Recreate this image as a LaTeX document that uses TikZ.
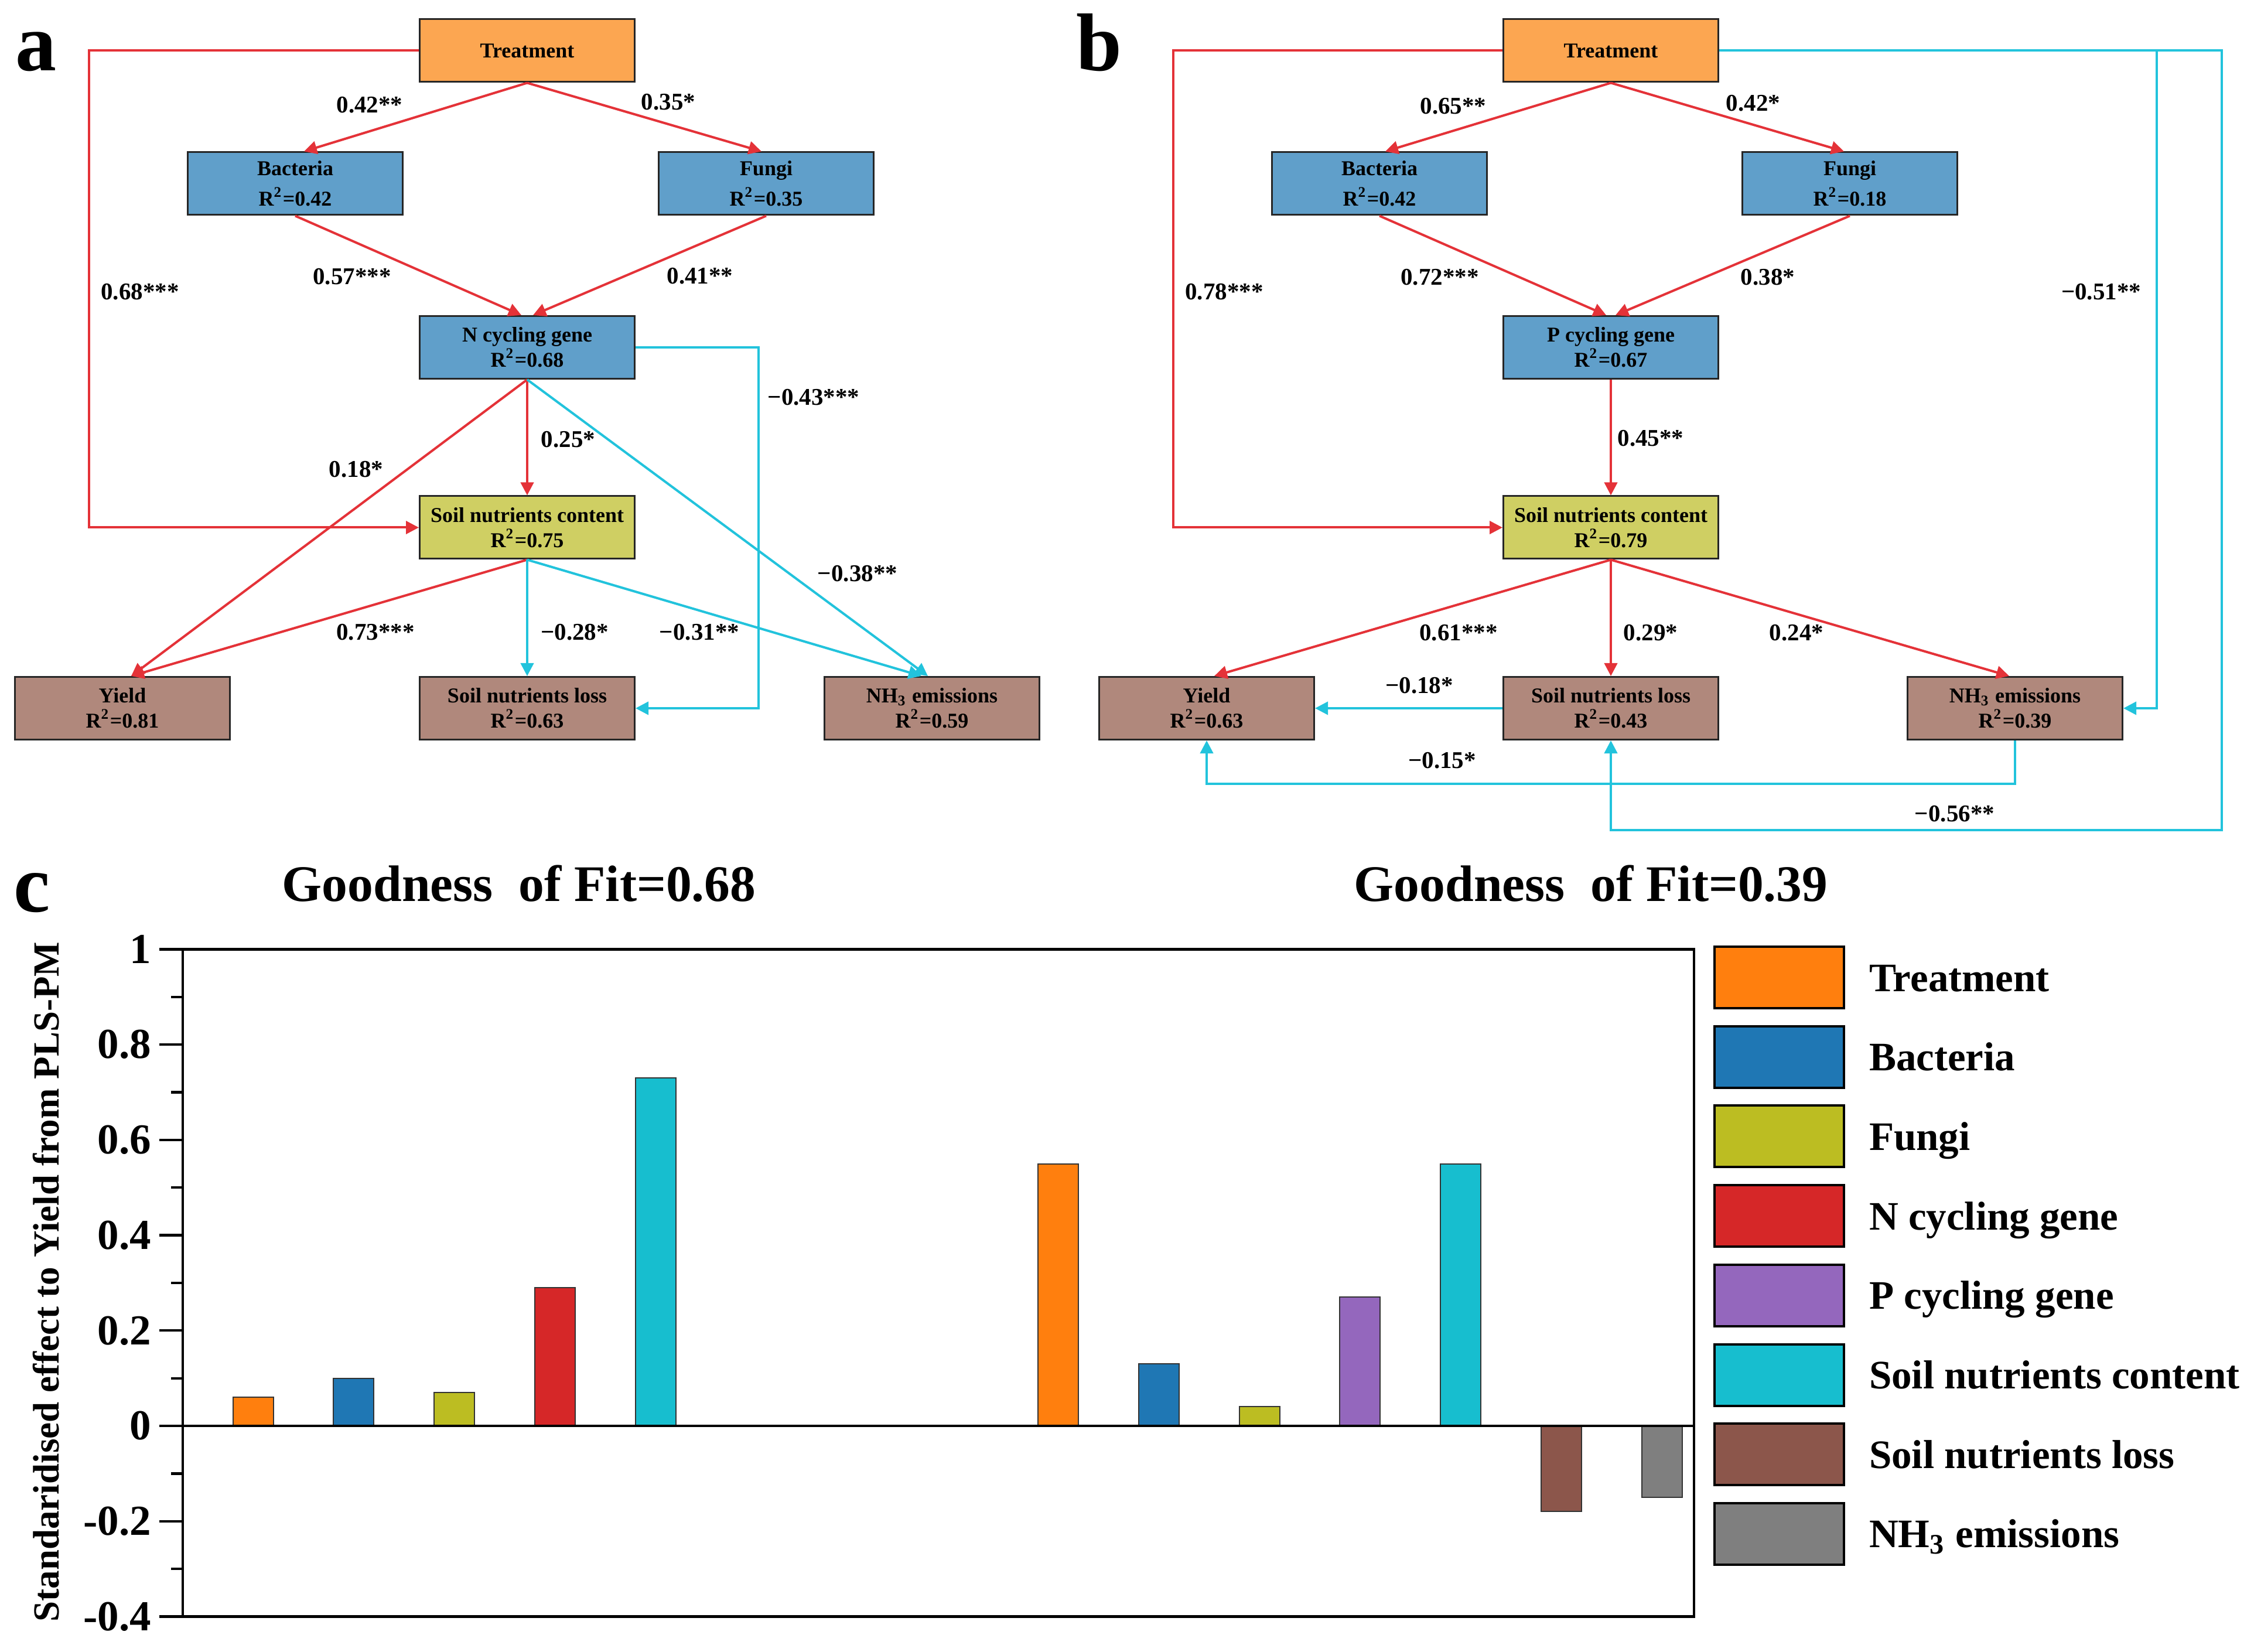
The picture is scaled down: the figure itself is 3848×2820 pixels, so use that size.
\documentclass[tikz,border=0pt]{standalone}
\usepackage{fontspec}
\setmainfont{Liberation Serif}
\usetikzlibrary{arrows.meta}
\definecolor{lred}{RGB}{228,50,56}
\definecolor{lcyan}{RGB}{34,195,220}
\definecolor{cTreat}{RGB}{252,166,81}
\definecolor{cBlue}{RGB}{96,159,202}
\definecolor{cYel}{RGB}{207,207,99}
\definecolor{cBrown}{RGB}{176,136,124}
\definecolor{bOr}{HTML}{FF7F0E}
\definecolor{bBl}{HTML}{1F77B4}
\definecolor{bOl}{HTML}{BCBD22}
\definecolor{bRd}{HTML}{D62728}
\definecolor{bPu}{HTML}{9467BD}
\definecolor{bCy}{HTML}{17BECF}
\definecolor{bBr}{HTML}{8C564B}
\definecolor{bGy}{HTML}{7F7F7F}
\begin{document}
\begin{tikzpicture}[x=0.2pt,y=-0.2pt,
  box/.style={draw=black!85, line width=0.6pt, minimum width=73.4pt, minimum height=21.4pt,
    inner sep=0pt, align=center, font=\bfseries\fontsize{7.2}{8.6}\selectfont},
  pr/.style={draw=lred, line width=0.8pt, -{Triangle[length=4.4pt,width=4.4pt]}},
  pc/.style={draw=lcyan, line width=0.8pt, -{Triangle[length=4.4pt,width=4.4pt]}},
  lab/.style={inner sep=0pt, font=\bfseries\fontsize{8.2}{9}\selectfont},
  letter/.style={inner sep=0pt, anchor=base west, font=\bfseries\fontsize{28}{30}\selectfont},
  ticklab/.style={inner sep=0pt, anchor=east, font=\bfseries\fontsize{14.6}{16}\selectfont},
  legtext/.style={inner sep=0pt, anchor=base west, font=\bfseries\fontsize{13.8}{16}\selectfont},
  title/.style={inner sep=0pt, anchor=base, font=\bfseries\fontsize{17.5}{20}\selectfont}]
\useasboundingbox[fill=white] (0,0) rectangle (3848,2820);

% ---------------- panel a ----------------
\node[letter] (la) at (25,121) {a};
\node[box, fill=cTreat] (Ta) at (900,86.5) {Treatment};
\node[box, fill=cBlue] (Ba) at (504,313.5) {Bacteria\\[1.8pt]R\textsuperscript{2}=0.42};
\node[box, fill=cBlue] (Fa) at (1308,313.5) {Fungi\\[1.8pt]R\textsuperscript{2}=0.35};
\node[box, fill=cBlue] (Na) at (900,593) {N cycling gene\\R\textsuperscript{2}=0.68};
\node[box, fill=cYel] (Sa) at (900,900.5) {Soil nutrients content\\R\textsuperscript{2}=0.75};
\node[box, fill=cBrown] (Ya) at (209,1209) {Yield\\R\textsuperscript{2}=0.81};
\node[box, fill=cBrown] (La) at (900,1209) {Soil nutrients loss\\R\textsuperscript{2}=0.63};
\node[box, fill=cBrown] (Ha) at (1591,1209) {NH\textsubscript{3} emissions\\R\textsuperscript{2}=0.59};
\coordinate (aL) at (152,0);
\coordinate (aR) at (1295,0);

\draw[pr] (Ta.west) -- (Ta.west -| aL) |- (Sa.west);
\draw[pr] (Ta.south) -- ([xshift=3pt]Ba.north);
\draw[pr] (Ta.south) -- ([xshift=-1.6pt]Fa.north);
\draw[pr] (Ba.south) -- ([xshift=-2pt]Na.north);
\draw[pr] (Fa.south) -- ([xshift=2pt]Na.north);
\draw[pr] (Na.south) -- (Sa.north);
\draw[pr] (Na.south) -- ([xshift=3pt]Ya.north);
\draw[pc] (Na.south) -- ([xshift=-1.4pt]Ha.north);
\draw[pr] (Sa.south) -- ([xshift=3pt]Ya.north);
\draw[pc] (Sa.south) -- (La.north);
\draw[pc] (Sa.south) -- ([xshift=-3.6pt]Ha.north);
\draw[pc] (Na.east) -- (Na.east -| aR) |- (La.east);

\node[lab] (a1) at (631,179) {0.42**};
\node[lab] (a2) at (1141,174) {0.35*};
\node[lab] (a3) at (601,472) {0.57***};
\node[lab] (a4) at (1195,471) {0.41**};
\node[lab] (a5) at (239,498) {0.68***};
\node[lab] (a6) at (970,750) {0.25*};
\node[lab] (a7) at (608,801) {0.18*};
\node[lab] (a8) at (1389,678) {−0.43***};
\node[lab] (a9) at (1464,979) {−0.38**};
\node[lab] (a10) at (641,1079) {0.73***};
\node[lab] (a11) at (981,1079) {−0.28*};
\node[lab] (a12) at (1194,1079) {−0.31**};

% ---------------- panel b ----------------
\node[letter] (lb) at (1836,121) {b};
\node[box, fill=cTreat] (Tb) at (2750,86.5) {Treatment};
\node[box, fill=cBlue] (Bb) at (2355,313.5) {Bacteria\\[1.8pt]R\textsuperscript{2}=0.42};
\node[box, fill=cBlue] (Fb) at (3158,313.5) {Fungi\\[1.8pt]R\textsuperscript{2}=0.18};
\node[box, fill=cBlue] (Pb) at (2750,593) {P cycling gene\\R\textsuperscript{2}=0.67};
\node[box, fill=cYel] (Sb) at (2750,900.5) {Soil nutrients content\\R\textsuperscript{2}=0.79};
\node[box, fill=cBrown] (Yb) at (2060,1209) {Yield\\R\textsuperscript{2}=0.63};
\node[box, fill=cBrown] (Lb) at (2750,1209) {Soil nutrients loss\\R\textsuperscript{2}=0.43};
\node[box, fill=cBrown] (Hb) at (3440,1209) {NH\textsubscript{3} emissions\\R\textsuperscript{2}=0.39};
\coordinate (bL) at (2003,0);
\coordinate (bR1) at (3682,0);
\coordinate (bR2) at (3793,0);
\coordinate (bMid) at (0,1338);
\coordinate (bBot) at (0,1417);

\draw[pr] (Tb.west) -- (Tb.west -| bL) |- (Sb.west);
\draw[pr] (Tb.south) -- ([xshift=2pt]Bb.north);
\draw[pr] (Tb.south) -- ([xshift=-2pt]Fb.north);
\draw[pr] (Bb.south) -- ([xshift=-1.6pt]Pb.north);
\draw[pr] (Fb.south) -- ([xshift=1.6pt]Pb.north);
\draw[pr] (Pb.south) -- (Sb.north);
\draw[pr] (Sb.south) -- ([xshift=2.6pt]Yb.north);
\draw[pr] (Sb.south) -- (Lb.north);
\draw[pr] (Sb.south) -- ([xshift=-2pt]Hb.north);
\draw[pc] (Lb.west) -- (Yb.east);
\draw[pc] (Hb.south) -- (Hb.south |- bMid) -| (Yb.south);
\draw[pc] (Tb.east) -- (Tb.east -| bR2) -- (bR2 |- bBot) -| (Lb.south);
\draw[pc] (Tb.east) -- (Tb.east -| bR1) |- (Hb.east);

\node[lab] (b1) at (2481,181) {0.65**};
\node[lab] (b2) at (2993,176) {0.42*};
\node[lab] (b3) at (2458,473) {0.72***};
\node[lab] (b4) at (3018,473) {0.38*};
\node[lab] (b5) at (2090,498) {0.78***};
\node[lab] (b6) at (3587,498) {−0.51**};
\node[lab] (b7) at (2818,748) {0.45**};
\node[lab] (b8) at (2490,1080) {0.61***};
\node[lab] (b9) at (2818,1080) {0.29*};
\node[lab] (b10) at (3067,1080) {0.24*};
\node[lab] (b11) at (2423,1170) {−0.18*};
\node[lab] (b12) at (2462,1298) {−0.15*};
\node[lab] (b13) at (3337,1389) {−0.56**};

% ---------------- panel c ----------------
\node[letter] (lc) at (22,1556) {c};
\node[title] (t1) at (886,1538) {Goodness\ \ of Fit=0.68};
\node[title] (t2) at (2716,1538) {Goodness\ \ of Fit=0.39};
\node[inner sep=0pt, rotate=90, anchor=base, font=\bfseries\fontsize{12.6}{14}\selectfont] (ylab) at (100,2188) {Standaridised effect to Yield from PLS-PM};

\foreach \i/\v/\c in {0/0.06/bOr,1/0.10/bBl,2/0.07/bOl,3/0.29/bRd,4/0.73/bCy,
    8/0.55/bOr,9/0.13/bBl,10/0.04/bOl,11/0.27/bPu,12/0.55/bCy,13/-0.18/bBr,14/-0.15/bGy}
  \draw[draw=black!80, line width=0.4pt, fill=\c] ({432+171.8*\i-34.5},2434) rectangle ({432+171.8*\i+34.5},{2434-813.5*\v});

\draw[line width=0.85pt] (312,1620.5) rectangle (2892,2759.4);
\draw[line width=0.85pt] (312,2434) -- (2892,2434);
\foreach \v/\t [count=\k] in {1/1,0.8/0.8,0.6/0.6,0.4/0.4,0.2/0.2,0/0,-0.2/-0.2,-0.4/-0.4}{
  \draw[line width=0.85pt] (272,{2434-813.5*\v}) -- (312,{2434-813.5*\v});
  \node[ticklab] (tk\k) at (259,{2434-813.5*\v}) {\t};
}
\foreach \v in {0.9,0.7,0.5,0.3,0.1,-0.1,-0.3}
  \draw[line width=0.85pt] (292,{2434-813.5*\v}) -- (312,{2434-813.5*\v});

% legend
\foreach \c/\t [count=\k from 0] in {bOr/Treatment,bBl/Bacteria,bOl/Fungi,bRd/N cycling gene,
    bPu/P cycling gene,bCy/Soil nutrients content,bBr/Soil nutrients loss,bGy/NH\textsubscript{3} emissions}{
  \draw[line width=0.8pt, fill=\c] (2927,{1616+135.7*\k}) rectangle (3148,{1721+135.7*\k});
  \node[legtext] (lg\k) at (3190,{1692+135.7*\k}) {\t};
}
\end{tikzpicture}
\end{document}
